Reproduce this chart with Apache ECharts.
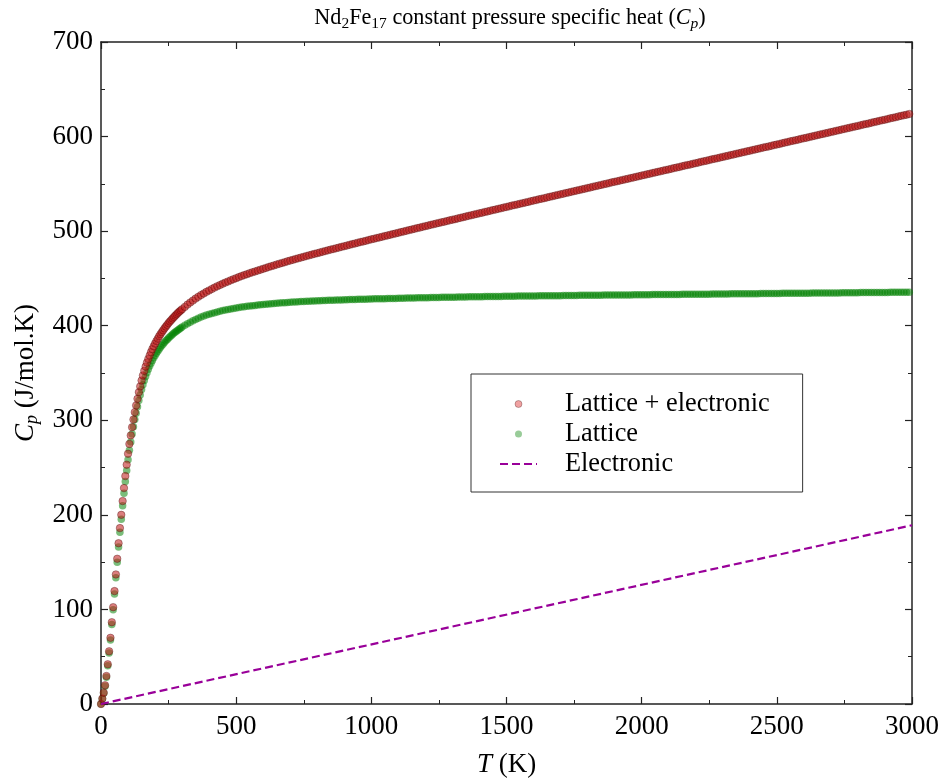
<!DOCTYPE html>
<html><head><meta charset="utf-8">
<script src="https://cdn.jsdelivr.net/npm/echarts@6.0.0/dist/echarts.min.js"></script>
<style>html,body{margin:0;padding:0;background:#fff}#c{width:943px;height:784px}</style>
</head><body><div id="c"></div>
<script>
// Temperature grid (K)
const temps = [
0,5,10,15,20,25,30,35,40,45,50,55,60,65,70,75,80,85,90,95,
100,105,110,115,120,125,130,135,140,145,150,155,160,165,170,175,180,185,190,195,
200,205,210,215,220,225,230,235,240,245,250,255,260,265,270,275,280,285,290,295,300,
310,320,330,340,350,360,370,380,390,400,
410,420,430,440,450,460,470,480,490,500,
510,520,530,540,550,560,570,580,590,600,
610,620,630,640,650,660,670,680,690,700,
710,720,730,740,750,760,770,780,790,800,
810,820,830,840,850,860,870,880,890,900,
910,920,930,940,950,960,970,980,990,1000,
1010,1020,1030,1040,1050,1060,1070,1080,1090,1100,
1110,1120,1130,1140,1150,1160,1170,1180,1190,1200,
1210,1220,1230,1240,1250,1260,1270,1280,1290,1300,
1310,1320,1330,1340,1350,1360,1370,1380,1390,1400,
1410,1420,1430,1440,1450,1460,1470,1480,1490,1500,
1510,1520,1530,1540,1550,1560,1570,1580,1590,1600,
1610,1620,1630,1640,1650,1660,1670,1680,1690,1700,
1710,1720,1730,1740,1750,1760,1770,1780,1790,1800,
1810,1820,1830,1840,1850,1860,1870,1880,1890,1900,
1910,1920,1930,1940,1950,1960,1970,1980,1990,2000,
2010,2020,2030,2040,2050,2060,2070,2080,2090,2100,
2110,2120,2130,2140,2150,2160,2170,2180,2190,2200,
2210,2220,2230,2240,2250,2260,2270,2280,2290,2300,
2310,2320,2330,2340,2350,2360,2370,2380,2390,2400,
2410,2420,2430,2440,2450,2460,2470,2480,2490,2500,
2510,2520,2530,2540,2550,2560,2570,2580,2590,2600,
2610,2620,2630,2640,2650,2660,2670,2680,2690,2700,
2710,2720,2730,2740,2750,2760,2770,2780,2790,2800,
2810,2820,2830,2840,2850,2860,2870,2880,2890,2900,
2910,2920,2930,2940,2950,2960,2970,2980,2990
];

// Lattice Cp (J/mol.K)
const latticeCp = [
0,5.4,11.4,18.9,28.3,40.4,53.8,67.8,84.0,99.6,116.2,133.5,149.8,165.9,181.6,195.3,209.6,222.9,235.3,247.0,
258.3,268.4,277.1,285.5,293.2,300.7,307.5,314.2,320.9,326.7,332.5,337.6,342.2,346.4,350.3,353.9,357.3,360.4,363.3,366.0,
368.5,370.9,373.1,375.2,377.2,379.0,380.7,382.4,384.0,385.5,387.0,388.4,389.7,391.0,392.2,393.4,394.5,395.6,396.6,397.6,398.6,
400.4,402.1,403.7,405.2,406.6,407.9,409.1,410.2,411.2,412.1,
413.0,413.8,414.6,415.3,416.0,416.6,417.2,417.8,418.3,418.8,
419.3,419.7,420.1,420.5,420.9,421.2,421.5,421.8,422.1,422.4,
422.7,423.0,423.2,423.5,423.7,424.0,424.2,424.4,424.6,424.8,
425.0,425.2,425.3,425.5,425.6,425.8,425.9,426.1,426.2,426.3,
426.5,426.6,426.7,426.8,426.9,427.0,427.1,427.2,427.3,427.4,
427.5,427.6,427.7,427.8,427.9,428.0,428.0,428.1,428.2,428.3,
428.4,428.4,428.5,428.6,428.6,428.7,428.8,428.9,428.9,429.0,
429.1,429.1,429.2,429.3,429.3,429.4,429.5,429.5,429.6,429.7,
429.7,429.8,429.8,429.9,429.9,430.0,430.0,430.1,430.1,430.2,
430.2,430.3,430.3,430.4,430.4,430.5,430.5,430.6,430.6,430.7,
430.7,430.8,430.8,430.9,430.9,430.9,431.0,431.0,431.1,431.1,
431.1,431.2,431.2,431.3,431.3,431.3,431.4,431.4,431.5,431.5,
431.5,431.6,431.6,431.6,431.7,431.7,431.7,431.8,431.8,431.8,
431.9,431.9,431.9,432.0,432.0,432.0,432.1,432.1,432.1,432.2,
432.2,432.3,432.3,432.3,432.3,432.4,432.4,432.4,432.5,432.5,
432.5,432.5,432.6,432.6,432.6,432.6,432.7,432.7,432.7,432.8,
432.8,432.8,432.8,432.9,432.9,432.9,432.9,433.0,433.0,433.0,
433.1,433.1,433.1,433.1,433.2,433.2,433.2,433.2,433.3,433.3,
433.3,433.4,433.4,433.4,433.4,433.5,433.5,433.5,433.5,433.6,
433.6,433.6,433.7,433.7,433.7,433.7,433.8,433.8,433.8,433.8,
433.9,433.9,433.9,434.0,434.0,434.0,434.0,434.1,434.1,434.1,
434.1,434.2,434.2,434.2,434.3,434.3,434.3,434.3,434.4,434.4,
434.4,434.4,434.5,434.5,434.5,434.6,434.6,434.6,434.6,434.7,
434.7,434.7,434.7,434.8,434.8,434.8,434.9,434.9,434.9,434.9,
435.0,435.0,435.0,435.0,435.1,435.1,435.1,435.2,435.2,435.2,
435.2,435.3,435.3,435.3,435.4,435.4,435.4,435.4,435.5
];

// Lattice + electronic Cp (J/mol.K)
const totalCp = [
0,5.7,12.0,19.8,29.6,42.0,55.7,70.0,86.5,102.4,119.4,137.0,153.6,170.0,186.0,200.0,214.6,228.3,241.0,253.0,
264.6,275.0,284.0,292.7,300.8,308.6,315.7,322.7,329.7,335.8,342.0,347.4,352.3,356.8,361.0,364.9,368.6,372.1,375.3,378.3,
381.1,383.8,386.3,388.8,391.1,393.2,395.2,397.2,399.1,400.9,402.8,404.5,406.1,407.7,409.2,410.7,412.1,413.6,414.9,416.2,417.5,
419.9,422.3,424.5,426.6,428.7,430.6,432.4,434.1,435.8,437.3,
438.8,440.3,441.7,443.0,444.4,445.6,446.8,448.0,449.2,450.3,
451.4,452.5,453.5,454.5,455.6,456.5,457.4,458.3,459.3,460.2,
461.1,462.1,462.9,463.8,464.7,465.6,466.4,467.2,468.1,468.9,
469.7,470.6,471.3,472.1,472.9,473.7,474.4,475.2,476.0,476.7,
477.5,478.3,479.0,479.7,480.5,481.2,481.9,482.6,483.4,484.1,
484.8,485.6,486.3,487.0,487.8,488.5,489.1,489.8,490.6,491.3,
492.0,492.7,493.4,494.1,494.8,495.5,496.2,496.9,497.6,498.3,
499.0,499.7,500.4,501.1,501.8,502.5,503.2,503.8,504.6,505.3,
505.9,506.7,507.3,508.0,508.7,509.4,510.0,510.7,511.4,512.1,
512.7,513.5,514.1,514.8,515.5,516.2,516.8,517.5,518.2,518.9,
519.5,520.3,520.9,521.6,522.3,522.9,523.6,524.2,525.0,525.6,
526.2,527.0,527.6,528.3,529.0,529.6,530.3,530.9,531.7,532.3,
532.9,533.7,534.3,534.9,535.7,536.3,536.9,537.6,538.3,538.9,
539.6,540.3,540.9,541.6,542.3,542.9,543.6,544.2,544.9,545.6,
546.2,547.0,547.6,548.2,548.9,549.6,550.2,550.8,551.6,552.2,
552.8,553.5,554.2,554.8,555.5,556.1,556.8,557.4,558.1,558.8,
559.4,560.1,560.7,561.4,562.1,562.7,563.3,564.0,564.7,565.3,
566.0,566.7,567.3,567.9,568.7,569.3,569.9,570.5,571.3,571.9,
572.5,573.3,573.9,574.5,575.2,575.9,576.5,577.1,577.8,578.5,
579.1,579.8,580.5,581.1,581.8,582.4,583.1,583.7,584.4,585.0,
585.7,586.4,587.0,587.7,588.4,589.0,589.6,590.3,591.0,591.6,
592.2,593.0,593.6,594.2,595.0,595.6,596.2,596.8,597.6,598.2,
598.8,599.5,600.2,600.8,601.5,602.2,602.8,603.4,604.1,604.8,
605.4,606.1,606.7,607.4,608.1,608.7,609.4,610.0,610.7,611.3,
612.0,612.7,613.3,613.9,614.7,615.3,615.9,616.6,617.3,617.9,
618.5,619.3,619.9,620.5,621.3,621.9,622.5,623.1,623.9
];

// Electronic contribution (straight line)
const electronicT = [0, 3000];
const electronicCp = [0, 189];

const seriesNames = ['Lattice + electronic', 'Lattice', 'Electronic'];

const SERIF = '"Liberation Serif", "Times New Roman", serif';
const FS = 27;

const chart = echarts.init(document.getElementById('c'), null, {renderer: 'canvas'});

const axisLine = {show: true, onZero: false, lineStyle: {color: '#222', width: 1.5}};
const axisTick = {show: true, inside: true, length: 7, lineStyle: {color: '#222', width: 1.2}};
const minorTick = {show: true, splitNumber: 2, length: 4, lineStyle: {color: '#222', width: 1}};
const labelStyle = {fontFamily: SERIF, fontSize: FS, color: '#000', formatter: v => String(v)};

const option = {
  animation: false,
  backgroundColor: '#fff',
  title: {
    text: 'Nd{s|2}Fe{s|17} constant pressure specific heat ({i|C}{is|p})',
    left: 505, top: 0, textAlign: 'center',
    textStyle: {
      fontFamily: SERIF, fontSize: 22.2, fontWeight: 'normal', color: '#000', lineHeight: 27,
      rich: {
        s: {fontFamily: SERIF, fontSize: 15.5, color: '#000', lineHeight: 12, verticalAlign: 'bottom'},
        i: {fontFamily: SERIF, fontSize: 22.2, color: '#000', fontStyle: 'italic'},
        is: {fontFamily: SERIF, fontSize: 15.5, color: '#000', fontStyle: 'italic', lineHeight: 12, verticalAlign: 'bottom'}
      }
    }
  },
  grid: {left: 101, right: 31, top: 42, bottom: 80, containLabel: false},
  legend: {
    orient: 'vertical', left: 471, top: 374,
    padding: [15, 33, 13, 28],
    itemWidth: 37, itemHeight: 7, itemGap: 0,
    borderColor: '#333', borderWidth: 1, backgroundColor: '#fff', borderRadius: 0,
    textStyle: {fontFamily: SERIF, fontSize: 26.3, color: '#000', lineHeight: 30, padding: [0, 0, 0, 23]},
    data: [
      {name: seriesNames[0], icon: 'circle', itemStyle: {color: 'rgba(220,40,40,0.55)', borderColor: 'rgba(40,0,0,0.5)', borderWidth: 0.7}},
      {name: seriesNames[1], icon: 'circle', itemStyle: {color: 'rgba(0,128,0,0.5)'}},
      {name: seriesNames[2], itemStyle: {opacity: 0}}
    ]
  },
  xAxis: [
    {
      type: 'value', min: 0, max: 3000, interval: 500, position: 'bottom',
      axisLine, axisTick, minorTick, splitLine: {show: false},
      axisLabel: Object.assign({margin: 9}, labelStyle),
      name: '{i|T} (K)', nameLocation: 'middle', nameGap: 47,
      nameTextStyle: {fontFamily: SERIF, fontSize: FS, color: '#000',
        rich: {i: {fontFamily: SERIF, fontSize: FS, color: '#000', fontStyle: 'italic'}}}
    },
    {
      type: 'value', min: 0, max: 3000, interval: 500, position: 'top',
      axisLine, axisTick, minorTick, splitLine: {show: false},
      axisLabel: {show: false}
    }
  ],
  yAxis: [
    {
      type: 'value', min: 0, max: 700, interval: 100, position: 'left',
      axisLine, axisTick, minorTick, splitLine: {show: false},
      axisLabel: Object.assign({margin: 8}, labelStyle),
      name: '{i|C}{is|p} (J/mol.K)', nameLocation: 'middle', nameGap: 60,
      nameTextStyle: {fontFamily: SERIF, fontSize: FS, color: '#000', lineHeight: 30,
        rich: {
          i: {fontFamily: SERIF, fontSize: FS, color: '#000', fontStyle: 'italic'},
          is: {fontFamily: SERIF, fontSize: 18, color: '#000', fontStyle: 'italic', lineHeight: 16, verticalAlign: 'bottom'}
        }}
    },
    {
      type: 'value', min: 0, max: 700, interval: 100, position: 'right',
      axisLine, axisTick, minorTick, splitLine: {show: false},
      axisLabel: {show: false}
    }
  ],
  series: [
    {
      name: seriesNames[1], type: 'scatter', xAxisIndex: 0, yAxisIndex: 0,
      symbol: 'circle', symbolSize: 7.5,
      itemStyle: {color: 'rgba(0,128,0,0.65)', borderWidth: 0},
      emphasis: {disabled: true},
      data: temps.map((t, i) => [t, latticeCp[i]]),
      z: 2
    },
    {
      name: seriesNames[0], type: 'scatter', xAxisIndex: 0, yAxisIndex: 0,
      symbol: 'circle', symbolSize: 7.5,
      itemStyle: {color: 'rgba(190,25,25,0.7)', borderColor: 'rgba(60,0,0,0.6)', borderWidth: 0.7},
      emphasis: {disabled: true},
      data: temps.map((t, i) => [t, totalCp[i]]),
      z: 3
    },
    {
      name: seriesNames[2], type: 'line', xAxisIndex: 0, yAxisIndex: 0,
      symbol: 'none', showSymbol: false,
      lineStyle: {color: '#990099', width: 2.2, type: [8, 4]},
      itemStyle: {color: 'rgba(0,0,0,0)', borderWidth: 0},
      emphasis: {disabled: true},
      data: electronicT.map((t, i) => [t, electronicCp[i]]),
      z: 4
    }
  ]
};
chart.setOption(option);
</script>
</body></html>
